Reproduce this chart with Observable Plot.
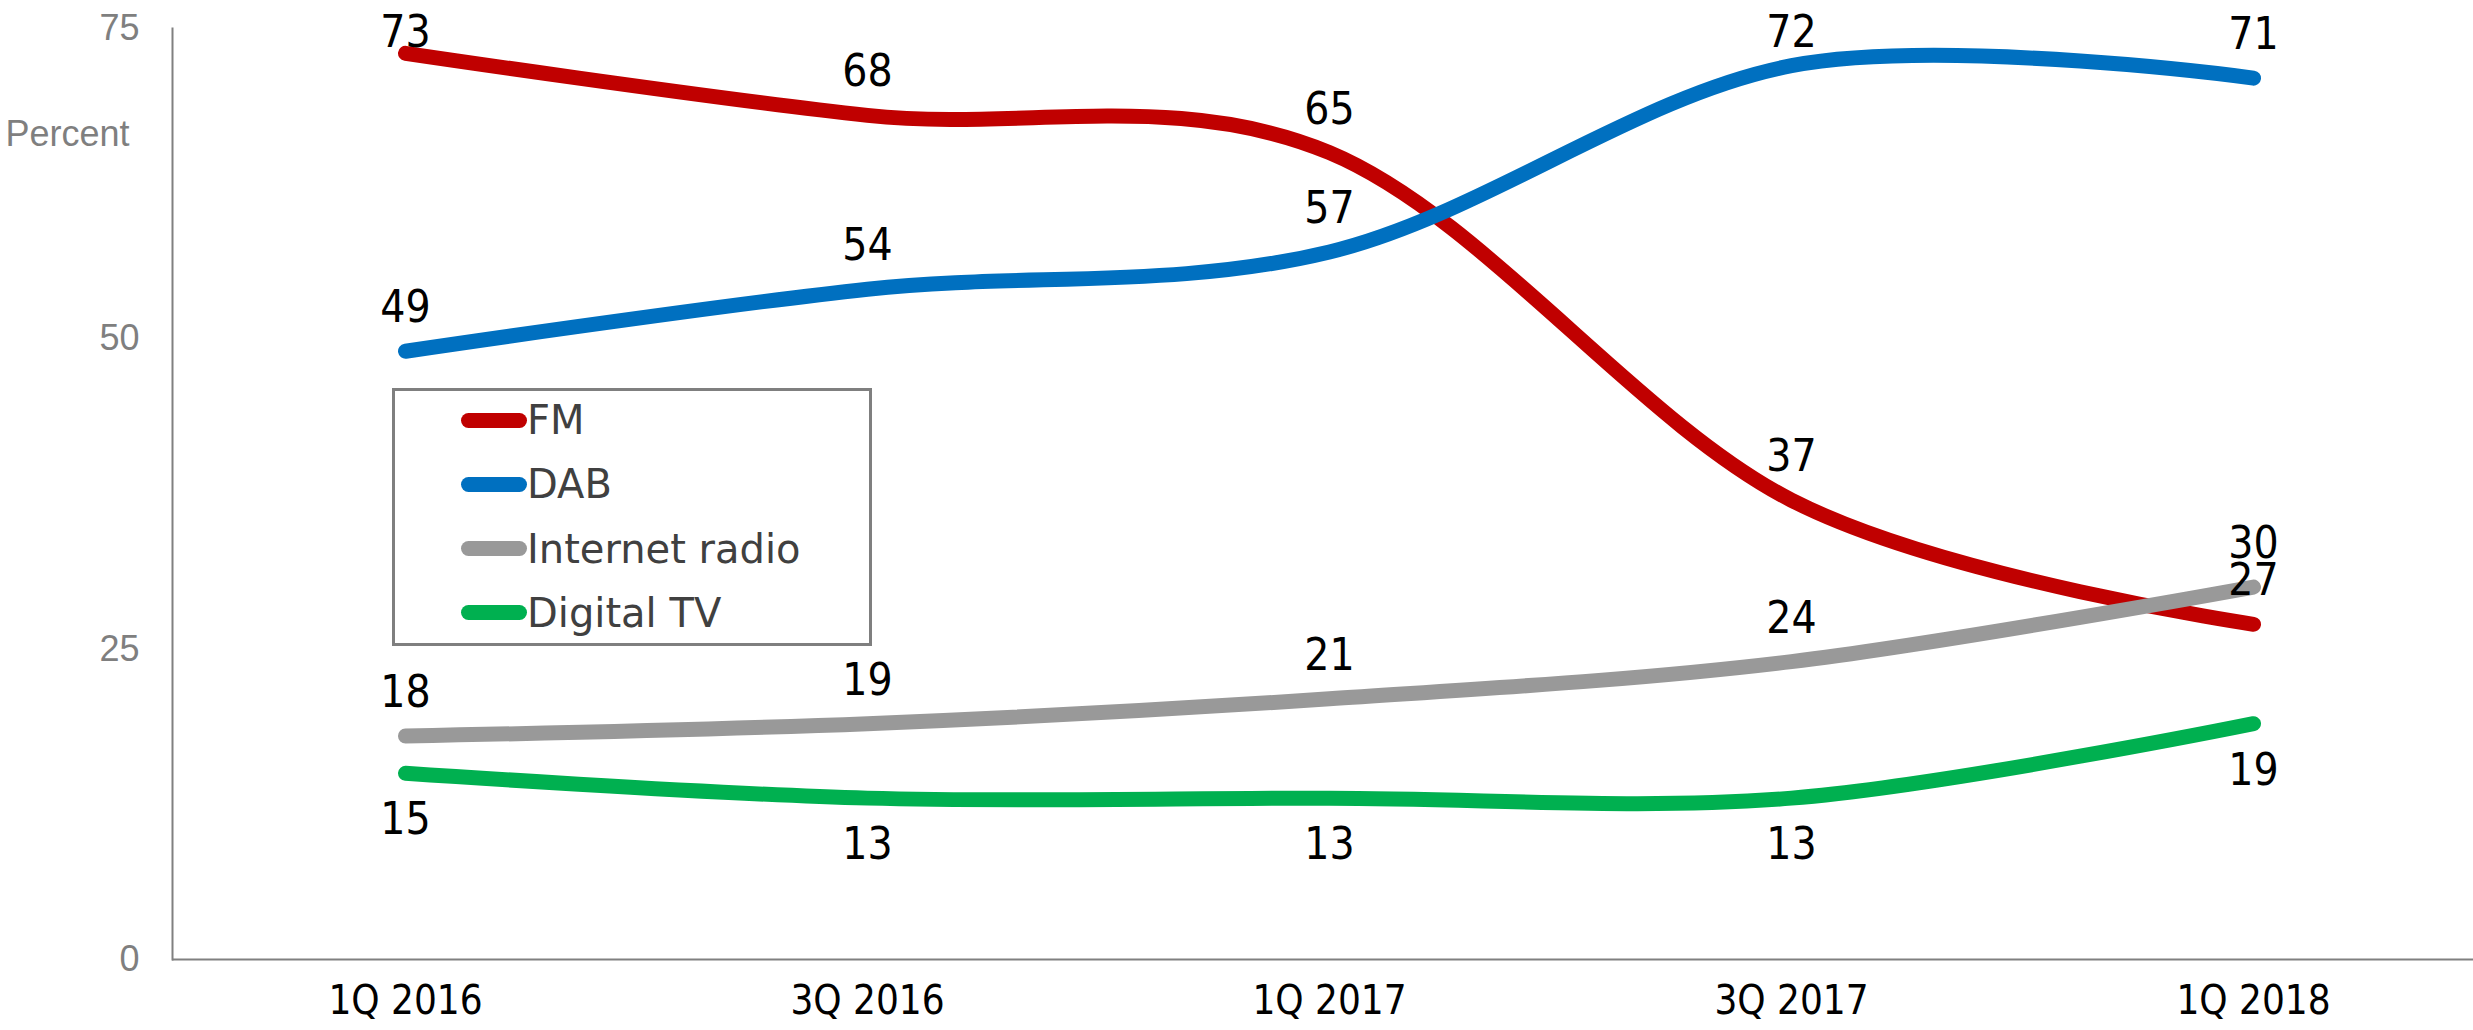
<!DOCTYPE html>
<html><head><meta charset="utf-8">
<script src="https://cdn.jsdelivr.net/npm/d3@7"></script>
<script src="https://cdn.jsdelivr.net/npm/@observablehq/plot@0.6"></script>
<style>
body{margin:0;background:#fff;}
#wrap{position:relative;width:2473px;height:1030px;overflow:hidden;}
#legend{position:absolute;left:392px;top:388px;width:474px;height:252px;border:3px solid #7f7f7f;background:#fff;}
.item{position:absolute;left:66px;height:64px;display:flex;align-items:center;font-family:"DejaVu Sans";font-size:40px;color:#404040;white-space:nowrap;}
.sw{width:66px;height:15px;border-radius:8px;}
</style></head><body><div id="wrap"></div>
<script>
const periods = ["1Q 2016", "3Q 2016", "1Q 2017", "3Q 2017", "1Q 2018"];
const seriesNames = ["FM", "DAB", "Internet radio", "Digital TV"];
const fm = [73, 68, 65, 37, 27];
const dab = [49, 54, 57, 72, 71];
const internetRadio = [18, 19, 21, 24, 30];
const digitalTv = [15, 13, 13, 13, 19];
const yTicks = [0, 25, 50, 75];
const colors = ["#C00000", "#0070C0", "#999999", "#00B050"];
const labelBelow = ["Digital TV"];

const seriesValues = [fm, dab, internetRadio, digitalTv];
const rows = [];
seriesNames.forEach((s, i) => periods.forEach((p, j) => rows.push({series: s, period: p, value: seriesValues[i][j]})));

const labelFont = "DejaVu Sans Condensed";
const chart = Plot.plot({
  width: 2473, height: 1030,
  marginLeft: 172, marginRight: 0, marginTop: 28, marginBottom: 71,
  style: {fontFamily: "DejaVu Sans", background: "white", overflow: "visible"},
  x: {type: "point", domain: periods, range: [405, 2253], padding: 0, label: null},
  y: {domain: [0, 75], label: null},
  color: {domain: seriesNames, range: colors},
  marks: [
    Plot.frame({anchor: "left", stroke: "#808080", strokeWidth: 2}),
    Plot.ruleY([0], {stroke: "#808080", strokeWidth: 2}),
    Plot.axisY({ticks: yTicks, tickSize: 0, tickPadding: 33, fontSize: 36, fontFamily: "Liberation Sans", fill: "#7f7f7f", label: null}),
    Plot.axisX({tickSize: 0, tickPadding: 26, fontSize: 40, fontFamily: labelFont, fill: "black", label: null}),
    Plot.text(["Percent"], {frameAnchor: "top-left", dx: -167, dy: 106, textAnchor: "start", lineAnchor: "middle", fontSize: 36, fontFamily: "Liberation Sans", fill: "#7f7f7f"}),
    Plot.line(rows, {x: "period", y: "value", z: "series", stroke: "series", strokeWidth: 15, curve: "cardinal", strokeLinecap: "round", strokeLinejoin: "round"}),
    Plot.text(rows, {filter: d => !labelBelow.includes(d.series), x: "period", y: "value", text: d => String(d.value), dy: -43, fontSize: 44, fontFamily: labelFont, fill: "black", className: "lbl-above"}),
    Plot.text(rows, {filter: d => labelBelow.includes(d.series), x: "period", y: "value", text: d => String(d.value), dy: 47, fontSize: 44, fontFamily: labelFont, fill: "black"})
  ]
});
const wrap = document.getElementById("wrap");
wrap.appendChild(chart);

// keep labels near the top inside the chart area (like the reference)
const svgTop = chart.getBoundingClientRect().top;
chart.querySelectorAll(".lbl-above text").forEach(t => {
  const r = t.getBoundingClientRect();
  const c = (r.top + r.bottom) / 2 - svgTop;
  if (c < 31) {
    const prev = t.getAttribute("transform") || "";
    t.setAttribute("transform", `translate(0,${31 - c}) ${prev}`);
  }
});

const legend = document.createElement("div");
legend.id = "legend";
seriesNames.forEach((s, i) => {
  const it = document.createElement("div");
  it.className = "item";
  it.style.top = (-3 + i * 64.3) + "px";
  const sw = document.createElement("div");
  sw.className = "sw";
  sw.style.background = colors[i];
  const t = document.createElement("span");
  t.textContent = s;
  it.appendChild(sw); it.appendChild(t);
  legend.appendChild(it);
});
wrap.appendChild(legend);
</script></body></html>
